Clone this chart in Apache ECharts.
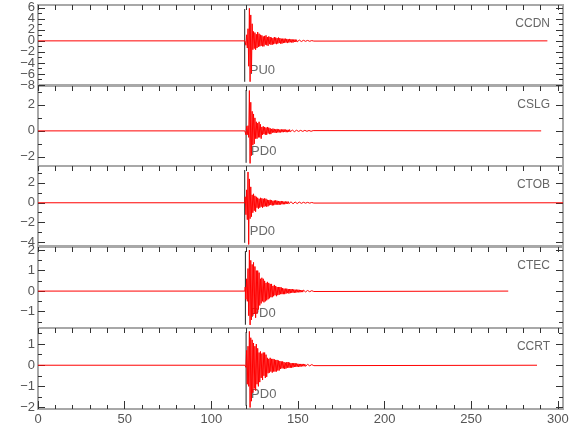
<!DOCTYPE html>
<html><head><meta charset="utf-8">
<script src="https://cdn.jsdelivr.net/npm/echarts@6/dist/echarts.min.js"></script>
<style>html,body{margin:0;padding:0;background:#fff}#c{width:580px;height:440px}</style>
</head><body><div id="c"></div>
<script>
// ---- data ----
const stations = ['CCDN', 'CSLG', 'CTOB', 'CTEC', 'CCRT'];
const phases = ['PU0', 'PD0', 'PD0', 'PD0', 'PD0'];
const picks = [119.3, 120.1, 119.3, 119.7, 120.1];
const traceEnds = [294, 290.4, 303, 271.4, 288];
const yMins = [-8, -2.7, -4.35, -1.8, -2.07];
const yMaxs = [6.5, 3.45, 3.7, 2.15, 1.76];
const yMajorTicks = [[6,4,2,0,-2,-4,-6,-8],[2,0,-2],[2,0,-2,-4],[2,1,0,-1],[1,0,-1,-2]];
const yMinorTicks = [[5,3,1,-1,-3,-5,-7],[3,1,-1],[3,1,-1,-3],[1.5,0.5,-0.5,-1.5],[1.5,0.5,-0.5,-1.5]];
const xMin = 0, xMax = 303;
const xMajorTicks = [0, 50, 100, 150, 200, 250, 300];
const xMinorTicks = [10,20,30,40,60,70,80,90,110,120,130,140,160,170,180,190,210,220,230,240,260,270,280,290];
const burstStart = 119.6, burstStep = 0.4;

const ccdnWave = [0.3,-0.8,1.1,-1.3, 2.2,-4.6,5.9,-7.4,4.7,-5.8,3.1,
 -1.6,1.7,-1.4,1.5,-1.6,1.2,-1.3,1.6,-1.1,1.3,
 -1.0,1.1,-0.9,1.0,-1.0,0.8,-1.0,0.9,-0.7,1.0,-0.8,0.7,-0.9,0.8,-0.6,0.7,
 -0.7,0.6,-0.7,0.5,-0.6,0.7,-0.5,0.6,-0.6,0.5,-0.5,0.6,-0.4,0.5,-0.5,0.4,-0.5,0.4,-0.4,
 0.4,-0.35,0.4,-0.3,0.35,-0.4,0.3,-0.3,0.35,-0.25,0.3,-0.3,0.25,-0.3,0.25,-0.2,0.25,-0.2,0.2,-0.2,
 0.15,-0.18,0.15,-0.12,0.15,-0.12,0.1,-0.12,0.1,-0.1,0.1,-0.08,0.08,-0.1,0.08,-0.06,0.07,-0.08,0.06,-0.06,0.05,-0.06,0.05,-0.04];
const cslgWave = [0.15,-0.3,0.35,-0.3, 0.4,-0.5, 3.1,-2.5,2.2,-1.9,
 1.5,-1.1,1.3,-1.0,1.0,
 -0.6,0.7,-0.6,0.6,-0.5,0.7,-0.5,0.5,-0.6,
 0.3,-0.3,0.35,-0.25,0.3,-0.3,0.25,-0.3,0.3,-0.2,0.25,-0.25,0.2,-0.25,
 0.15,-0.15,0.18,-0.12,0.15,-0.15,0.12,-0.15,0.15,-0.12,0.12,-0.12,0.1,-0.12,0.12,-0.1,0.1,-0.1,0.12,-0.08,0.1,-0.1,0.08,-0.1,0.08,-0.08,0.1,-0.07,0.08,
 -0.07,0.06,-0.07,0.06,-0.06,0.05,-0.06,0.05,-0.05,0.06,-0.04,0.05,-0.05,0.04,-0.05,0.04,-0.04,0.04,-0.03,0.04,-0.04,0.03,-0.03,0.04,-0.03,0.03,-0.03,0.02,-0.03,0.03,-0.02,0.02,-0.02];
const ctobWave = [0.6,-1.2,1.3,-1.7, 3.1,-4.2,2.4,-1.6,1.6,-1.4,
 0.8,-1.0,0.9,-0.8,0.7,-0.9,0.6,
 -0.5,0.5,-0.6,0.4,-0.5,0.5,-0.4,0.45,-0.5,0.4,-0.4,0.45,-0.35,0.4,-0.4,0.3,-0.35,
 0.27,-0.25,0.3,-0.22,0.25,-0.27,0.2,-0.25,0.22,-0.2,0.25,-0.18,0.2,-0.2,0.18,-0.2,0.15,-0.18,0.18,-0.15,0.15,-0.15,0.12,-0.15,0.13,-0.12,
 0.12,-0.1,0.12,-0.1,0.1,-0.12,0.1,-0.08,0.1,-0.1,0.08,-0.09,0.08,-0.08,0.07,-0.08,0.07,-0.06,0.07,-0.07,0.06,-0.06,0.05,-0.06,0.05,-0.05,0.05,-0.04,0.05,-0.05,0.04,-0.04,0.04,-0.04,0.03,-0.04,0.03,-0.03,0.03,-0.03];
const ctecWave = [0.2,-0.4,0.6,-0.5, 1.1,-1.2,2.0,-1.65,1.5,-1.4,
 1.3,-1.2,1.4,-1.1,1.2,-1.3,1.0,-1.1,1.0,-0.9,0.9,
 -0.7,0.6,-0.6,0.65,-0.5,0.6,-0.55,0.5,-0.5,0.4,-0.45,0.45,-0.4,0.4,-0.35,0.35,-0.3,0.35,-0.3,
 0.25,-0.25,0.3,-0.2,0.25,-0.25,0.2,-0.2,0.2,-0.18,0.2,-0.15,0.18,-0.15,0.15,-0.15,0.12,-0.15,0.12,-0.12,0.12,-0.1,0.1,-0.12,0.1,
 -0.1,0.1,-0.08,0.1,-0.08,0.08,-0.08,0.07,-0.08,0.07,-0.06,0.07,-0.06,0.06,-0.06,0.05,-0.05,0.05,-0.05,0.05,-0.04,0.05,-0.04,0.04,-0.04,0.03,-0.03,0.03,-0.03,0.03,-0.03,0.02,-0.02,0.02,-0.02];
const ccrtWave = [0.05,-0.1,0.7,-0.9,0.9,-1.0, 1.6,-2.0,1.3,-1.7,1.2,
 -1.3,1.05,-1.1,0.9,-1.2,1.0,-0.9,0.8,-1.0,
 0.6,-0.8,0.65,-0.6,0.55,-0.7,0.6,-0.5,0.6,-0.6,0.5,-0.55,
 0.35,-0.38,0.3,-0.35,0.35,-0.3,0.3,-0.35,0.3,-0.3,0.28,-0.3,0.25,-0.3,0.25,-0.25,0.22,-0.25,0.2,
 -0.18,0.18,-0.15,0.18,-0.15,0.15,-0.18,0.12,-0.15,0.15,-0.12,0.15,-0.12,0.12,-0.12,0.1,-0.12,0.1,-0.1,0.1,-0.08,0.1,-0.08,0.08,
 -0.07,0.07,-0.08,0.06,-0.07,0.06,-0.06,0.06,-0.05,0.06,-0.05,0.05,-0.05,0.04,-0.05,0.04,-0.04,0.04,-0.03,0.04,-0.03,0.03,-0.03,0.03,-0.02];
const waves = [ccdnWave, cslgWave, ctobWave, ctecWave, ccrtWave];

// ---- layout / style ----
const FONT = '"Liberation Sans Narrow","Liberation Sans",Arial,sans-serif';
const STRETCH = 'condensed';
const tops = [5, 86, 166, 247, 328];
const heights = [80, 80, 80, 81, 81];
const TICK = '#333';
const minus = v => String(v).replace('-', '\u2212');

const grid = [], xAxis = [], yAxis = [], series = [], graphic = [];
const xTopAll = xMajorTicks.concat(xMinorTicks);

function trace(wave, end) {
  const d = [[0, 0], [burstStart - 0.2, 0]];
  wave.forEach((v, i) => d.push([+(burstStart + i * burstStep).toFixed(2), v]));
  d.push([+(burstStart + wave.length * burstStep).toFixed(2), 0]);
  d.push([end, 0]);
  return d;
}

const yLabelStyle = {show: true, margin: 3, formatter: minus,
  showMinLabel: true, showMaxLabel: true, hideOverlap: false,
  color: '#555', fontSize: 13, fontFamily: FONT, fontStyle: STRETCH};

stations.forEach((st, k) => {
  grid.push({left: 38, right: 17, top: tops[k], height: heights[k], show: true,
    borderColor: '#a8a8a8', borderWidth: 2, backgroundColor: 'transparent'});
  const last = k === stations.length - 1;
  const xb = xAxis.length;
  const xLine = {show: false, onZero: false};
  xAxis.push({gridIndex: k, type: 'value', min: xMin, max: xMax, position: 'bottom',
    axisLine: xLine, splitLine: {show: false},
    axisTick: {show: last, inside: true, length: 8, customValues: xMajorTicks, lineStyle: {color: TICK}},
    axisLabel: {show: last, customValues: xMajorTicks, margin: 4, color: '#555', fontSize: 13,
      fontFamily: FONT, fontStyle: STRETCH, showMinLabel: true, showMaxLabel: true, hideOverlap: false}});
  xAxis.push({gridIndex: k, type: 'value', min: xMin, max: xMax, position: 'top',
    axisLine: xLine, splitLine: {show: false},
    axisTick: {show: true, inside: true, length: 5, customValues: xTopAll, lineStyle: {color: TICK}},
    axisLabel: {show: false}});
  if (last) {
    xAxis.push({gridIndex: k, type: 'value', min: xMin, max: xMax, position: 'bottom',
      axisLine: xLine, splitLine: {show: false},
      axisTick: {show: true, inside: true, length: 4, customValues: xMinorTicks, lineStyle: {color: TICK}},
      axisLabel: {show: false}});
  }
  const yl = yAxis.length;
  const base = {gridIndex: k, type: 'value', min: yMins[k], max: yMaxs[k],
    axisLine: {show: false, onZero: false}, splitLine: {show: false}};
  const labelsA = yMajorTicks[k].filter((v, i) => i % 2 === 0);
  const labelsB = yMajorTicks[k].filter((v, i) => i % 2 === 1);
  yAxis.push(Object.assign({}, base, {position: 'left',
    axisTick: {show: true, inside: true, length: 7, customValues: yMajorTicks[k], lineStyle: {color: TICK}},
    axisLabel: Object.assign({}, yLabelStyle, {customValues: labelsA})}));
  yAxis.push(Object.assign({}, base, {position: 'left',
    axisTick: {show: false},
    axisLabel: Object.assign({}, yLabelStyle, {customValues: labelsB})}));
  yAxis.push(Object.assign({}, base, {position: 'left',
    axisTick: {show: true, inside: true, length: 4, customValues: yMinorTicks[k], lineStyle: {color: TICK}},
    axisLabel: {show: false}}));
  yAxis.push(Object.assign({}, base, {position: 'right',
    axisTick: {show: true, inside: true, length: 7, customValues: yMajorTicks[k], lineStyle: {color: TICK}},
    axisLabel: {show: false}}));
  yAxis.push(Object.assign({}, base, {position: 'right',
    axisTick: {show: true, inside: true, length: 4, customValues: yMinorTicks[k], lineStyle: {color: TICK}},
    axisLabel: {show: false}}));

  const span = yMaxs[k] - yMins[k];
  series.push({type: 'line', xAxisIndex: xb, yAxisIndex: yl, data: trace(waves[k], traceEnds[k]),
    showSymbol: false, symbol: 'none', lineStyle: {color: '#ff0000', width: 1}, z: 3, silent: true});
  series.push({type: 'line', xAxisIndex: xb, yAxisIndex: yl,
    data: [[picks[k], yMins[k] + 0.04 * span], [picks[k], yMaxs[k] - 0.05 * span]],
    showSymbol: false, symbol: 'none', lineStyle: {color: '#222', width: 1}, z: 2, silent: true});
  series.push({type: 'scatter', xAxisIndex: xb, yAxisIndex: yl,
    data: [[picks[k], yMins[k] + 0.18 * span]], symbolSize: 0, silent: true,
    label: {show: true, position: 'right', distance: 5, formatter: phases[k],
      color: '#444', fontSize: 13, fontFamily: FONT, fontStyle: STRETCH}});
  graphic.push({type: 'text', right: 30, top: tops[k] + 13,
    style: {text: st, fill: '#666', fontSize: 12, fontFamily: FONT, fontStyle: STRETCH}});
});

const chart = echarts.init(document.getElementById('c'), null, {renderer: 'canvas'});
chart.setOption({animation: false, grid, xAxis, yAxis, series, graphic});
</script>
</body></html>
